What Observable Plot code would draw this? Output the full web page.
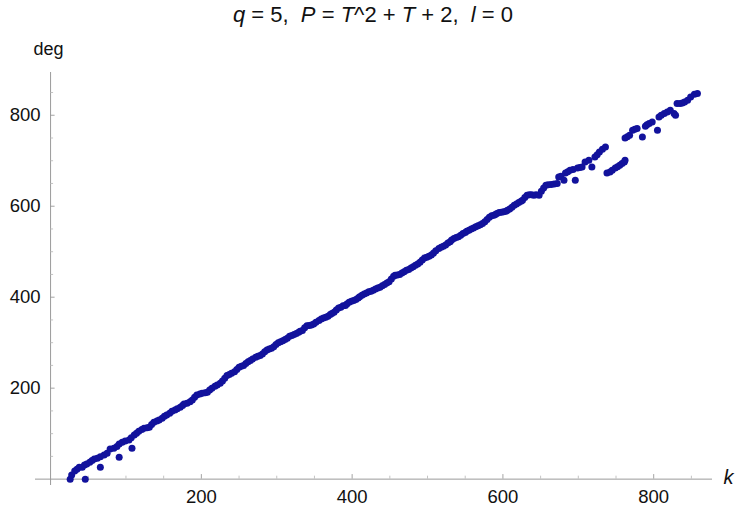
<!DOCTYPE html>
<html>
<head>
<meta charset="utf-8">
<script src="https://cdn.jsdelivr.net/npm/d3@7"></script>
<script src="https://cdn.jsdelivr.net/npm/@observablehq/plot@0.6"></script>
<style>
  html, body { margin: 0; padding: 0; background: #fff; }
  #wrap { position: relative; width: 735px; height: 507px; overflow: hidden; }
  #title { position: absolute; left: 0; top: 2px; width: 746px; text-align: center;
           font-family: "Liberation Sans", Arial, sans-serif; font-size: 22px; color: #111; white-space: pre; }
  #chart { position: absolute; left: 0; top: 0; }
</style>
</head>
<body>
<div id="wrap">
  <div id="chart"></div>
  <div id="title"><i>q</i> = 5,  <i>P</i> = <i>T</i>^2 + <i>T</i> + 2,  <i>l</i> = 0</div>
</div>
<script>
// k values (horizontal) and deg values (vertical)
const kVals = [
  26,28,32,35,38,42,45,48,52,55,58,62,66,71,75,79,84,88,91,95,99,104,107,111,114,117,121,124,128,131,
  134,137,141,144,148,151,154,158,161,165,168,172,175,177,181,185,188,191,194,198,201,205,208,211,214,218,221,225,228,231,
  234,237,240,244,247,250,253,256,259,262,265,268,272,275,278,281,284,287,290,293,296,299,302,305,308,311,314,317,320,323,
  326,329,331,334,337,340,343,346,349,352,356,359,362,365,368,371,373,376,379,382,385,388,391,393,396,399,402,405,408,410,
  413,416,419,422,425,428,431,434,437,440,443,446,449,452,455,457,460,463,466,469,472,475,478,481,484,487,490,493,496,499,
  502,505,508,511,515,518,521,524,527,530,532,535,538,541,544,547,550,552,555,558,561,564,567,570,573,576,579,582,585,588,
  590,592,595,598,601,604,606,609,612,615,618,621,624,626,629,632,635,638,641,644,648,651,654,657,660,664,668,672,674,677,
  681,683,686,689,693,696,699,702,705,709,714,718,722,725,728,732,736,
  738,742,745,749,752,755,758,761,762,
  762,765,768,772,775,778,785,789,791,794,798,805,807,810,814,818,822,827,829,831,835,838,841,845,849,854,858,
  46,66,91,108
];
const degVals = [
  0,9,18,22,26,26,31,33,37,41,44,46,49,53,57,66,68,72,77,81,84,86,91,97,101,105,109,112,113,114,
  120,125,128,130,134,138,141,145,149,152,155,158,162,165,167,170,174,180,185,187,189,190,191,196,200,204,207,211,216,222,
  228,230,233,236,241,246,248,250,254,258,261,264,268,270,272,275,280,284,286,288,291,296,300,302,304,307,310,314,316,318,
  320,323,325,327,333,337,338,339,341,345,349,352,354,356,358,362,364,367,372,376,378,381,382,385,389,391,393,395,398,401,
  404,407,409,412,413,415,418,420,422,425,428,431,434,440,446,448,449,450,453,456,459,461,464,467,470,473,477,482,486,488,
  490,493,497,502,507,510,512,515,519,522,526,529,531,533,536,540,542,545,547,550,552,555,557,559,562,566,571,576,579,580,
  582,584,586,587,588,589,591,594,598,602,605,608,611,613,619,624,625,625,624,625,624,633,640,646,647,648,649,650,664,666,
  657,673,676,679,681,657,684,685,686,697,701,686,708,713,719,725,730,
  673,675,679,684,687,690,694,697,701,
  750,753,756,767,769,771,752,776,779,782,785,767,796,800,804,807,811,804,800,826,826,827,829,833,840,846,848,
  0,26,48,68
];
const points = kVals.map((k, i) => ({k, deg: degVals[i]}));

// axis ticks
const xMajor = [200, 400, 600, 800];
const xMinor = [50, 100, 150, 250, 300, 350, 450, 500, 550, 650, 700, 750, 850];
const yMajor = [200, 400, 600, 800];
const yMinor = [50, 100, 150, 250, 300, 350, 450, 500, 550, 650, 700, 750, 850];

const axisColor = "#9a9a9a";
const font = "Liberation Sans, Arial, sans-serif";

const chart = Plot.plot({
  width: 735,
  height: 507,
  marginLeft: 35,
  marginRight: 23,
  marginTop: 72,
  marginBottom: 22,
  style: {fontFamily: font, background: "#fff", overflow: "visible"},
  x: {domain: [-20, 878], axis: null},
  y: {domain: [-14, 894], axis: null},
  marks: [
    Plot.ruleY([0], {stroke: axisColor, strokeWidth: 1}),
    Plot.ruleX([0], {stroke: axisColor, strokeWidth: 1}),
    Plot.ruleX(xMinor, {x: d => d, y1: 0, y2: 6.5, stroke: "#b5b5b5", strokeWidth: 0.8}),
    Plot.ruleX(xMajor, {x: d => d, y1: 0, y2: 10, stroke: axisColor, strokeWidth: 0.9}),
    Plot.ruleY(yMinor, {y: d => d, x1: 0, x2: 4, stroke: "#b5b5b5", strokeWidth: 0.8}),
    Plot.ruleY(yMajor, {y: d => d, x1: 0, x2: 6, stroke: axisColor, strokeWidth: 0.9}),
    Plot.text(xMajor, {x: d => d, y: 0, dy: 18, text: d => String(d), fontSize: 18.5, fill: "#111", textAnchor: "middle"}),
    Plot.text(yMajor, {x: 0, y: d => d, dx: -10, text: d => String(d), fontSize: 18.5, fill: "#111", textAnchor: "end"}),
    Plot.text(["deg"], {frameAnchor: "top-left", dx: 13, dy: -30, text: d => d, fontSize: 18, fill: "#111", textAnchor: "middle"}),
    Plot.text(["k"], {frameAnchor: "bottom-right", dx: 16, dy: -2, text: d => d, fontSize: 20, fontStyle: "italic", fill: "#111", textAnchor: "middle"}),
    Plot.dot(points, {x: "k", y: "deg", r: 3.5, fill: "#12129c", stroke: "none"})
  ]
});
document.getElementById("chart").appendChild(chart);
</script>
</body>
</html>
